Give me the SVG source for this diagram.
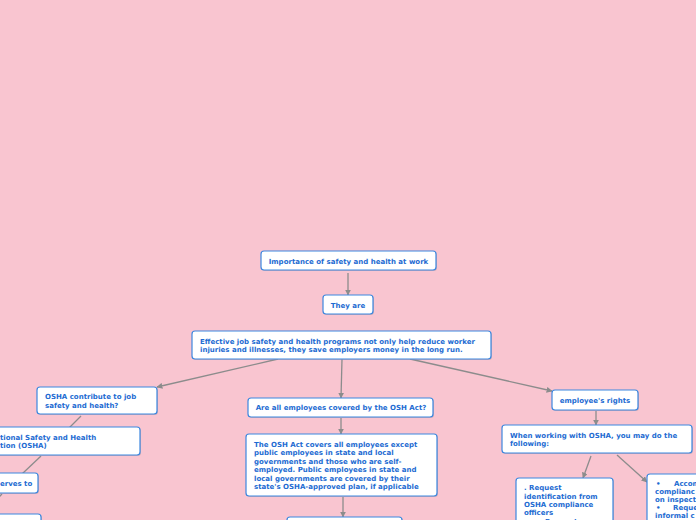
<svg xmlns="http://www.w3.org/2000/svg" width="696" height="520" viewBox="0 0 696 520">
<defs>
<style>
.n rect.b{fill:#fff;stroke:#3C87DF;stroke-width:1.2}
.n rect.s{fill:#b9a0ac;opacity:0.6}
.n text{font-family:"DejaVu Sans","Verdana",sans-serif;font-weight:bold;font-size:7px;fill:#1D6BD2}
.c path{stroke:#8c8c8c;stroke-width:1.3;fill:none}
.m{text-anchor:middle}
</style>
<marker id="ah" viewBox="0 0 10 10" refX="9" refY="5" markerWidth="6" markerHeight="6" markerUnits="userSpaceOnUse" orient="auto">
<path d="M0,0 L10,5 L0,10 z" fill="#8c8c8c"/>
</marker>
</defs>
<rect width="696" height="520" fill="#F9C5D0"/>
<g class="c">
<path d="M348,273 V295" marker-end="url(#ah)"/>
<path d="M278,359 L157,387" marker-end="url(#ah)"/>
<path d="M342,359 L341,398" marker-end="url(#ah)"/>
<path d="M410,359 L552,391" marker-end="url(#ah)"/>
<path d="M81,416 L69,428"/>
<path d="M41,456 L22,474"/>
<path d="M2,494 L-2,498"/>
<path d="M341,418 V434" marker-end="url(#ah)"/>
<path d="M343,497 V517" marker-end="url(#ah)"/>
<path d="M596,411 V425" marker-end="url(#ah)"/>
<path d="M591,456 L583,478" marker-end="url(#ah)"/>
<path d="M617,455 L647,482" marker-end="url(#ah)"/>
</g>
<g id="n1" class="n"><rect class="s" x="262" y="252" width="175" height="19" rx="3"/><rect class="b" x="261" y="251" width="175" height="19" rx="3"/><text class="m" x="348.5" y="263.5">Importance of safety and health at work</text></g>
<g id="n2" class="n"><rect class="s" x="324" y="296" width="50" height="19" rx="3"/><rect class="b" x="323" y="295" width="50" height="19" rx="3"/><text class="m" x="348" y="307.5">They are</text></g>
<g id="n3" class="n"><rect class="s" x="193" y="332" width="299" height="28" rx="3"/><rect class="b" x="192" y="331" width="299" height="28" rx="3"/><text x="200" y="344">Effective job safety and health programs not only help reduce worker</text><text x="200" y="352">injuries and illnesses, they save employers money in the long run.</text></g>
<g id="n4" class="n"><rect class="s" x="38" y="388" width="120" height="27" rx="3"/><rect class="b" x="37" y="387" width="120" height="27" rx="3"/><text x="45" y="399">OSHA contribute to job</text><text x="45" y="407.5">safety and health?</text></g>
<g id="n5" class="n"><rect class="s" x="-59" y="428" width="200" height="28" rx="3"/><rect class="b" x="-60" y="427" width="200" height="28" rx="3"/><text x="0" y="440">tional Safety and Health</text><text x="0" y="448">tion (OSHA)</text></g>
<g id="n6" class="n"><rect class="s" x="-39" y="474" width="78" height="20" rx="3"/><rect class="b" x="-40" y="473" width="78" height="20" rx="3"/><text x="0" y="485.5">erves to</text></g>
<g id="n7" class="n"><rect class="s" x="-59" y="515" width="101" height="20" rx="3"/><rect class="b" x="-60" y="514" width="101" height="20" rx="3"/></g>
<g id="n8" class="n"><rect class="s" x="249" y="399" width="185" height="19" rx="3"/><rect class="b" x="248" y="398" width="185" height="19" rx="3"/><text class="m" x="341" y="410">Are all employees covered by the OSH Act?</text></g>
<g id="n9" class="n"><rect class="s" x="247" y="435" width="191" height="62" rx="3"/><rect class="b" x="246" y="434" width="191" height="62" rx="3"/>
<text x="254" y="446.5">The OSH Act covers all employees except</text>
<text x="254" y="455">public employees in state and local</text>
<text x="254" y="463.5">governments and those who are self-</text>
<text x="254" y="472">employed. Public employees in state and</text>
<text x="254" y="480.5">local governments are covered by their</text>
<text x="254" y="489">state's OSHA-approved plan, if applicable</text></g>
<g id="n10" class="n"><rect class="s" x="288" y="518" width="115" height="20" rx="3"/><rect class="b" x="287" y="517" width="115" height="20" rx="3"/></g>
<g id="n11" class="n"><rect class="s" x="553" y="391" width="86" height="20" rx="3"/><rect class="b" x="552" y="390" width="86" height="20" rx="3"/><text class="m" x="595" y="403">employee's rights</text></g>
<g id="n12" class="n"><rect class="s" x="503" y="426" width="190" height="28" rx="3"/><rect class="b" x="502" y="425" width="190" height="28" rx="3"/><text x="510" y="438">When working with OSHA, you may do the</text><text x="510" y="446">following:</text></g>
<g id="n13" class="n"><rect class="s" x="517" y="479" width="97" height="60" rx="3"/><rect class="b" x="516" y="478" width="97" height="60" rx="3"/>
<text x="524" y="490">. Request</text>
<text x="524" y="498.5">identification from</text>
<text x="524" y="506.5">OSHA compliance</text>
<text x="524" y="515">officers</text>
<text y="523.5"><tspan x="526">•</tspan><tspan x="545">Request</tspan></text></g>
<g id="n14" class="n"><rect class="s" x="648" y="475" width="100" height="60" rx="3"/><rect class="b" x="647" y="474" width="100" height="60" rx="3"/>
<text y="486"><tspan x="656">•</tspan><tspan x="674">Accom</tspan></text>
<text x="655" y="494">complianc</text>
<text x="655" y="502">on inspect</text>
<text y="510"><tspan x="656">•</tspan><tspan x="673">Reque</tspan></text>
<text x="655" y="518">informal c</text></g>
</svg>
